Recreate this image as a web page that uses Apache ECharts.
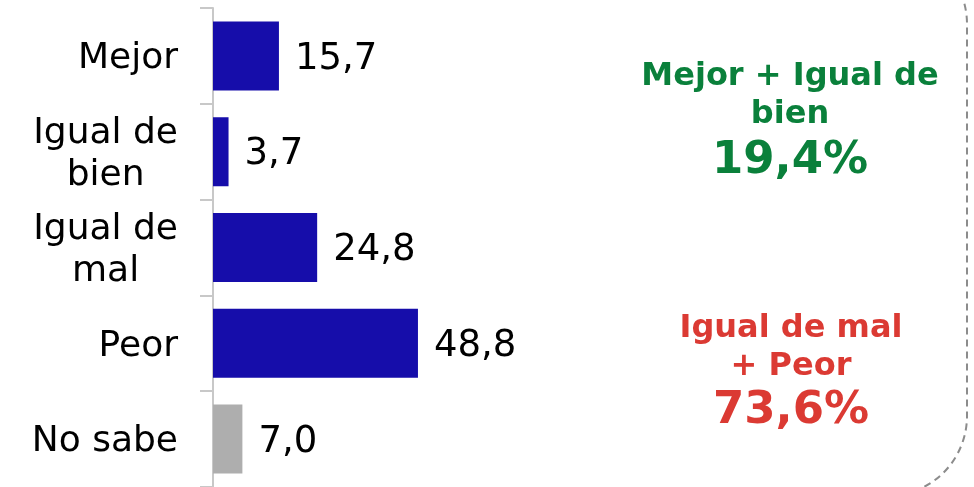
<!DOCTYPE html>
<html>
<head>
<meta charset="utf-8">
<script src="https://cdn.jsdelivr.net/npm/echarts@6/dist/echarts.min.js"></script>
<style>
html,body{margin:0;padding:0;background:#fff;}
#c{width:974px;height:487px;}
</style>
</head>
<body>
<div id="c"></div>
<script>
var categories = ['Mejor', 'Igual de\nbien', 'Igual de\nmal', 'Peor', 'No sabe'];
var values = [15.7, 3.7, 24.8, 48.8, 7.0];
var barColors = ['#160DAA', '#160DAA', '#160DAA', '#160DAA', '#AEAEAE'];
var greenLines = ['Mejor + Igual de', 'bien'];
var greenTotal = '19,4%';
var redLines = ['Igual de mal', '+ Peor'];
var redTotal = '73,6%';

var chart = echarts.init(document.getElementById('c'), null, {renderer: 'canvas'});
var font = 'DejaVu Sans';
var green = '#0A803B';
var red = '#DB3A33';

chart.setOption({
  animation: false,
  grid: {left: 213, top: 8, width: 420, bottom: -1, containLabel: false},
  xAxis: {type: 'value', min: 0, max: 100, show: false},
  yAxis: {
    type: 'category',
    data: categories,
    inverse: true,
    axisLine: {show: true, lineStyle: {color: '#C8C8C8', width: 2}},
    axisTick: {show: true, length: 13, lineStyle: {color: '#C8C8C8', width: 2}},
    axisLabel: {
      margin: 35, align: 'right', padding: [6, 0, 0, 0],
      formatter: function (v) {
        return v.split('\n').map(function (s) { return '{c|' + s + '}'; }).join('\n');
      },
      rich: {
        c: {fontSize: 36, fontFamily: font, color: '#000', lineHeight: 42, align: 'center'}
      }
    },
    splitLine: {show: false}
  },
  series: [{
    type: 'bar',
    barWidth: 69,
    data: values.map(function (v, i) {
      return {value: v, itemStyle: {color: barColors[i]}};
    }),
    label: {
      show: true, position: 'right', distance: 16, offset: [0, 3],
      fontSize: 37, fontFamily: font, color: '#000',
      formatter: function (p) { return p.value.toFixed(1).replace('.', ','); }
    }
  }],
  graphic: [
    {
      type: 'rect', silent: true,
      shape: {x: -120, y: -56, width: 1087, height: 552, r: 80},
      style: {fill: 'none', stroke: '#8C8C8C', lineWidth: 2, lineDash: [7, 5]}
    },
    {type: 'text', x: 790, y: 77, style: {text: greenLines[0], fill: green, font: 'bold 32px "DejaVu Sans"', textAlign: 'center', textVerticalAlign: 'middle'}},
    {type: 'text', x: 790, y: 115, style: {text: greenLines[1], fill: green, font: 'bold 32px "DejaVu Sans"', textAlign: 'center', textVerticalAlign: 'middle'}},
    {type: 'text', x: 790, y: 161, style: {text: greenTotal, fill: green, font: 'bold 45px "DejaVu Sans"', textAlign: 'center', textVerticalAlign: 'middle'}},
    {type: 'text', x: 791, y: 329, style: {text: redLines[0], fill: red, font: 'bold 32px "DejaVu Sans"', textAlign: 'center', textVerticalAlign: 'middle'}},
    {type: 'text', x: 791, y: 367, style: {text: redLines[1], fill: red, font: 'bold 32px "DejaVu Sans"', textAlign: 'center', textVerticalAlign: 'middle'}},
    {type: 'text', x: 791, y: 411, style: {text: redTotal, fill: red, font: 'bold 45px "DejaVu Sans"', textAlign: 'center', textVerticalAlign: 'middle'}}
  ]
});
</script>
</body>
</html>
